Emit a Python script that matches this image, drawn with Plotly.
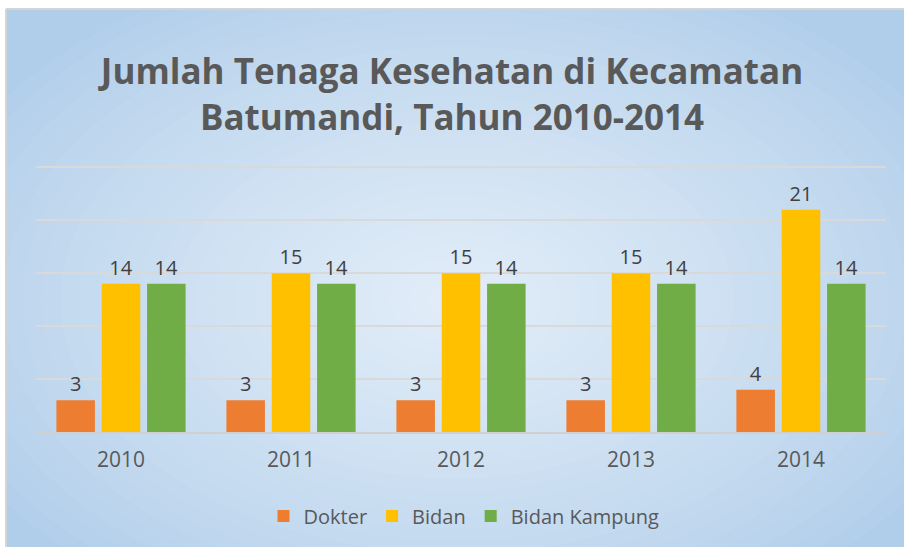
import plotly.graph_objects as go

years = ["2010", "2011", "2012", "2013", "2014"]
dokter = [3, 3, 3, 3, 4]
bidan = [14, 15, 15, 15, 21]
bidan_kampung = [14, 14, 14, 14, 14]
series_names = ["Dokter", "Bidan", "Bidan Kampung"]
series_colors = ["#ED7D31", "#FFC000", "#70AD47"]

W, H = 904, 547
ML, MR, MT, MB = 36, 18, 162, 115
PW, PH = W - ML - MR, H - MT - MB
YMAX = 25.5

def px_x(p):
    return (p - ML) / PW

def px_y(p):
    return (H - MB - p) / PH

fig = go.Figure()
for name, vals, col in zip(series_names, [dokter, bidan, bidan_kampung], series_colors):
    fig.add_trace(go.Bar(
        x=years, y=vals, name=name,
        marker=dict(color=col, line=dict(width=0)),
        text=vals, textposition="outside", cliponaxis=False,
        textfont=dict(family="Open Sans", size=20, color="#404040"),
    ))

# background: radial-like gradient
shapes = []
edge = (176, 205, 234)
center = (226, 237, 248)
shapes.append(dict(type="rect", xref="paper", yref="paper",
                   x0=px_x(0), x1=px_x(W), y0=px_y(H), y1=px_y(0),
                   fillcolor="rgb(%d,%d,%d)" % edge, line=dict(width=0), layer="below"))
cx, cy = 455, 300
rx0, ry0 = 560, 360
n = 30
for i in range(n):
    f = i / (n - 1)
    rx = rx0 * (1 - f) + 8
    ry = ry0 * (1 - f) + 5
    c = tuple(int(round(edge[k] + (center[k] - edge[k]) * (f ** 0.8))) for k in range(3))
    shapes.append(dict(type="circle", xref="paper", yref="paper",
                       x0=px_x(cx - rx), x1=px_x(cx + rx),
                       y0=px_y(cy + ry), y1=px_y(cy - ry),
                       fillcolor="rgb(%d,%d,%d)" % c, line=dict(width=0), layer="below"))
# white outer margin and grey border
shapes.append(dict(type="rect", xref="paper", yref="paper",
                   x0=px_x(-5), x1=px_x(W + 5), y0=px_y(9), y1=px_y(-5),
                   fillcolor="white", line=dict(width=0), layer="below"))
shapes.append(dict(type="rect", xref="paper", yref="paper",
                   x0=px_x(-5), x1=px_x(6), y0=px_y(H + 5), y1=px_y(-5),
                   fillcolor="white", line=dict(width=0), layer="below"))
shapes.append(dict(type="line", xref="paper", yref="paper",
                   x0=px_x(6), x1=px_x(W + 5), y0=px_y(9), y1=px_y(9),
                   line=dict(color="#d4d4d4", width=2), layer="below"))
shapes.append(dict(type="line", xref="paper", yref="paper",
                   x0=px_x(6), x1=px_x(6), y0=px_y(9), y1=px_y(H + 5),
                   line=dict(color="#d4d4d4", width=2), layer="below"))

fig.update_layout(
    width=W, height=H,
    margin=dict(l=ML, r=MR, t=MT, b=MB),
    paper_bgcolor="white",
    plot_bgcolor="rgba(0,0,0,0)",
    shapes=shapes,
    barmode="group", bargap=0.2, bargroupgap=0.15,
    title=dict(
        text="Jumlah Tenaga Kesehatan di Kecamatan<br>Batumandi, Tahun 2010-2014",
        x=0.5, xref="container", xanchor="center",
        y=1 - 84 / H, yref="container", yanchor="middle",
        font=dict(family="Open Sans", size=35, color="#595959", weight="bold"),
    ),
    font=dict(family="Open Sans", color="#595959"),
    xaxis=dict(showgrid=False, showline=True, linecolor="#d0d0d0", linewidth=2,
               tickfont=dict(size=21, color="#595959"), ticks="", ticklabelstandoff=8),
    yaxis=dict(range=[0, YMAX], dtick=5, showticklabels=False, gridcolor="#d9d9d9",
               gridwidth=1.5, zeroline=False, showline=False),
    legend=dict(orientation="h", x=px_x(464), xanchor="center",
                y=px_y(516), yanchor="middle",
                font=dict(size=20, color="#595959"), bgcolor="rgba(0,0,0,0)",
                itemwidth=30, traceorder="normal"),
    showlegend=True,
)

fig.write_html("out.html", config={"displayModeBar": False},
               post_script="document.body.style.margin='0';document.body.style.overflow='hidden';")
